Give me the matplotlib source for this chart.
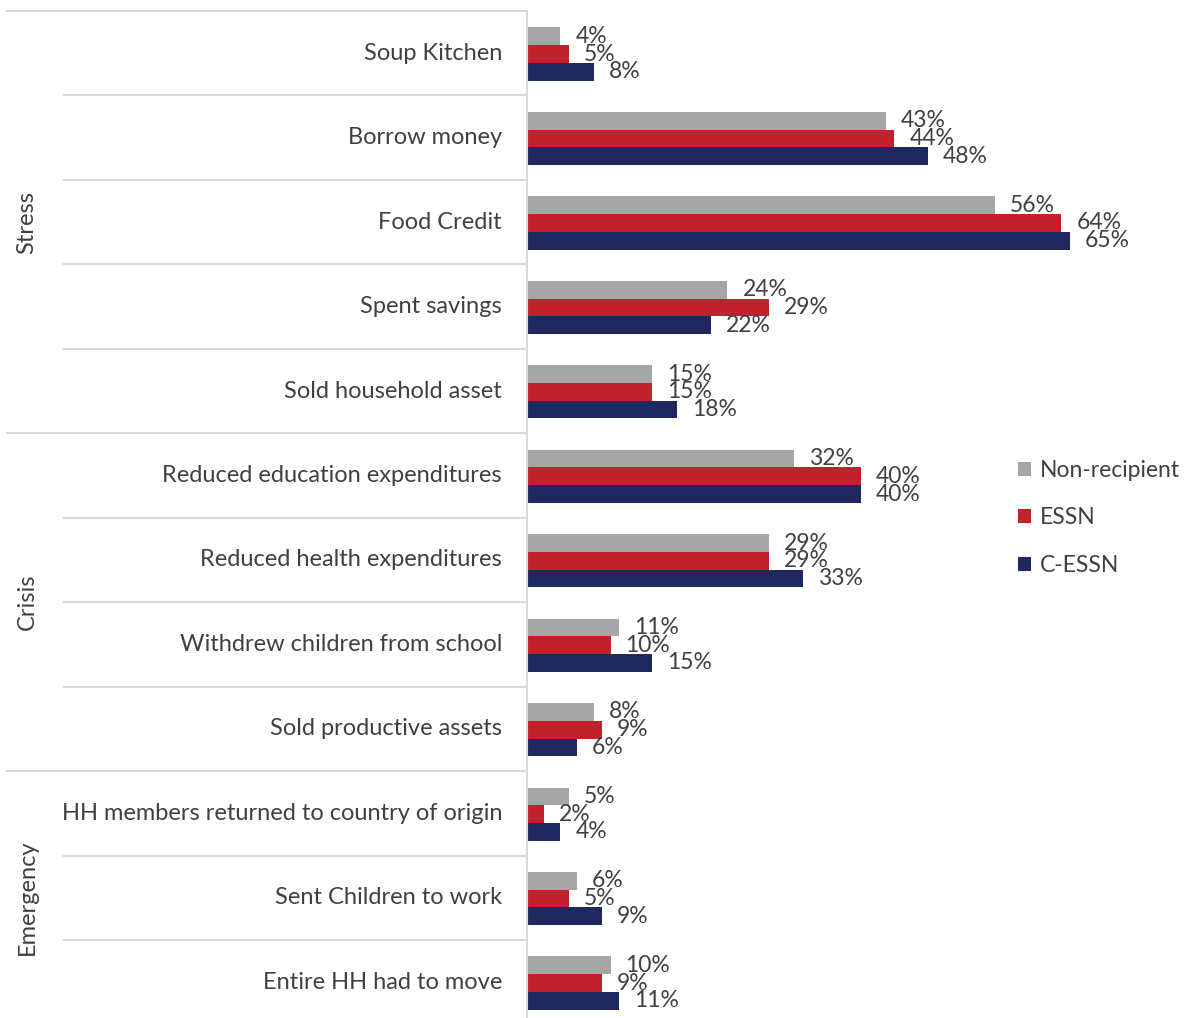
import matplotlib.pyplot as plt
import numpy as np

plt.rcParams['font.family'] = ['Lato', 'DejaVu Sans']

# Coping strategies, grouped by severity
categories = ['Soup Kitchen', 'Borrow money', 'Food Credit', 'Spent savings',
              'Sold household asset', 'Reduced education expenditures',
              'Reduced health expenditures', 'Withdrew children from school',
              'Sold productive assets', 'HH members returned to country of origin',
              'Sent Children to work', 'Entire HH had to move']
groups = ['Stress', 'Crisis', 'Emergency']
group_sizes = [5, 4, 3]

series = ['Non-recipient', 'ESSN', 'C-ESSN']
non_recipient = [4, 43, 56, 24, 15, 32, 29, 11, 8, 5, 6, 10]
essn = [5, 44, 64, 29, 15, 40, 29, 10, 9, 2, 5, 9]
c_essn = [8, 48, 65, 22, 18, 40, 33, 15, 6, 4, 9, 11]

colors = ['#A6A6A6', '#C0212B', '#1F2960']
text_col = '#404040'
line_col = '#D9D9D9'

W, H = 1190, 1018
fig = plt.figure(figsize=(W / 100, H / 100), dpi=100)
x0 = 527
top, row = 11, 84.45
ax_h = row * len(categories)
ax = fig.add_axes([x0 / W, 1 - (top + ax_h) / H, 1 - x0 / W, ax_h / H])

y = np.arange(len(categories))
bh = 0.21
for k, (name, vals) in enumerate(zip(series, [non_recipient, essn, c_essn])):
    pos = y + (k - 1) * bh + 0.01
    ax.barh(pos, vals, height=bh, color=colors[k], label=name)
    for p, v in zip(pos, vals):
        ax.annotate(f'{v}%', (v, p), xytext=(15, 0), textcoords='offset pixels',
                    ha='left', va='center', fontsize=16.5, color=text_col)

ax.set_xlim(0, 79.4)
ax.set_ylim(len(categories) - 0.5, -0.5)
ax.set_xticks([])
ax.set_yticks([])
for s in ['top', 'right', 'bottom']:
    ax.spines[s].set_visible(False)
ax.spines['left'].set_color(line_col)
ax.spines['left'].set_linewidth(1.5)

# category labels and separators on the left
to_ax = lambda px: (px - x0) / (W - x0)
for i, name in enumerate(categories):
    ax.text(to_ax(502), i, name, transform=ax.get_yaxis_transform(),
            ha='right', va='center', fontsize=17, color=text_col)

boundaries = np.cumsum([0] + group_sizes)
for i in range(len(categories)):
    start = 7 if i in boundaries else 64
    ax.plot([to_ax(start), 0], [i - 0.5, i - 0.5], transform=ax.get_yaxis_transform(),
            color=line_col, lw=1.5, clip_on=False)

for g, a, b in zip(groups, boundaries[:-1], boundaries[1:]):
    ax.text(to_ax(27), (a + b - 1) / 2, g, transform=ax.get_yaxis_transform(),
            ha='center', va='center', rotation=90, fontsize=17, color=text_col)

ax.legend(loc='center left', bbox_to_anchor=(to_ax(1009), 1 - (518 - top) / ax_h),
          frameon=False, fontsize=16.5, labelcolor=text_col, handlelength=0.55,
          handleheight=0.55, handletextpad=0.4, labelspacing=1.15, borderaxespad=0)

fig.savefig('out.png', dpi=100)
